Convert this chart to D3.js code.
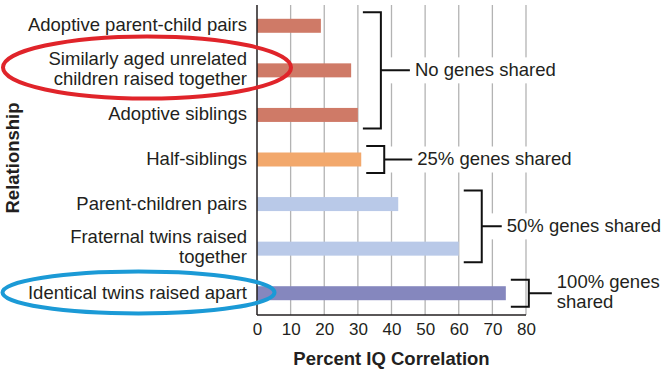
<!DOCTYPE html>
<html>
<head>
  <meta charset="utf-8">
  <title>IQ correlation</title>
  <style type="text/css">
    body {
      margin: 0;
      background-color: #fff;
    }
    svg {
      display: block;
      font-family: "Liberation Sans", Arial, sans-serif;
    }
    text {
      fill: #231f20;
    }
  </style>
  <script src="https://d3js.org/d3.v7.min.js"></script>
</head>
<body>

<script>
// categories, top to bottom (lines split with |)
var relations = [
  "Adoptive parent-child pairs",
  "Similarly aged unrelated|children raised together",
  "Adoptive siblings",
  "Half-siblings",
  "Parent-children pairs",
  "Fraternal twins raised|together",
  "Identical twins raised apart"
];
var correlation = [19, 28, 30, 31, 42, 60, 74];
var xTicks = [0, 10, 20, 30, 40, 50, 60, 70, 80];

// groups of rows for the brackets
var groupNames = ["No genes shared", "25% genes shared", "50% genes shared", "100% genes|shared"];
var groupFirst = [0, 3, 4, 6];
var groupLast = [2, 3, 5, 6];
var groupColors = ["#cf7a67", "#f2a86c", "#b9c9e8", "#8587be"];

// row -> group
var rowGroup = relations.map(function(d, i) {
  return groupFirst.findIndex(function(f, g) { return i >= f && i <= groupLast[g]; });
});

var width = 665, height = 376;
var stems = [29, 28, 20, 23];

var svg = d3.select("body").append("svg")
  .attr("width", width)
  .attr("height", height);

var xscale = d3.scaleLinear()
  .domain([0, 80])
  .range([257, 526]);

var yscale = d3.scaleBand()
  .domain(relations)
  .range([3.5, 315.5])
  .padding(0);

var barH = 14;
var axisTop = 5, axisBottom = 315;

// gridlines
svg.append("g")
  .selectAll("line")
  .data(xTicks.slice(1))
  .enter().append("line")
  .attr("x1", function(d) { return xscale(d); })
  .attr("x2", function(d) { return xscale(d); })
  .attr("y1", axisTop)
  .attr("y2", axisBottom)
  .style("stroke", "#b3b3b3")
  .style("stroke-width", 1.3);

// bars
svg.append("g")
  .selectAll("rect")
  .data(correlation)
  .enter().append("rect")
  .attr("x", xscale(0))
  .attr("y", function(d, i) { return yscale(relations[i]) + yscale.bandwidth() / 2 - barH / 2; })
  .attr("width", function(d) { return xscale(d) - xscale(0); })
  .attr("height", barH)
  .style("fill", function(d, i) { return groupColors[rowGroup[i]]; });

// axes
var xaxis = d3.axisBottom(xscale).tickValues(xTicks).tickSize(0).tickPadding(8);
var gx = svg.append("g")
  .attr("transform", "translate(0," + axisBottom + ")")
  .call(xaxis);
gx.select(".domain").attr("d", "M" + xscale(0) + ",0H" + xscale(80)).style("stroke", "#231f20").style("stroke-width", 1.5);
gx.selectAll(".tick text")
  .attr("y", 20)
  .attr("dy", 0)
  .style("font-size", "17px")
  .style("font-family", "'Liberation Sans', Arial, sans-serif")
  .style("fill", "#231f20");

svg.append("line")
  .attr("x1", xscale(0)).attr("x2", xscale(0))
  .attr("y1", axisTop).attr("y2", axisBottom)
  .style("stroke", "#231f20")
  .style("stroke-width", 1.5);

// category labels
var lineH = 20;
svg.append("g")
  .selectAll("text")
  .data(relations)
  .enter().append("text")
  .attr("text-anchor", "end")
  .style("font-size", "18.5px")
  .each(function(d) {
    var lines = d.split("|");
    var cy = yscale(d) + yscale.bandwidth() / 2;
    var t = d3.select(this);
    lines.forEach(function(l, k) {
      t.append("tspan")
        .attr("x", 247)
        .attr("y", cy + 5.5 - (lines.length - 1) * 11 + k * lineH)
        .text(l);
    });
  });

// brackets
groupNames.forEach(function(name, g) {
  var vals = correlation.slice(groupFirst[g], groupLast[g] + 1);
  var tip = xscale(d3.max(vals)) + 5;
  var vx = tip + 18;
  var y0 = yscale(relations[groupFirst[g]]) + yscale.bandwidth() / 2 - 13.5;
  var y1 = yscale(relations[groupLast[g]]) + yscale.bandwidth() / 2 + 13.5;
  var ym = (y0 + y1) / 2;
  var lines = name.split("|");
  var bg = svg.append("g");

  var t = bg.append("text").style("font-size", "18.5px");
  lines.forEach(function(l, k) {
    t.append("tspan")
      .attr("x", vx + stems[g] + 5)
      .attr("y", ym + 5.5 - (lines.length - 1) * 11 + k * lineH)
      .text(l);
  });
  var bb = t.node().getBBox();
  bg.insert("rect", "text")
    .attr("x", vx + 3)
    .attr("y", ym - 13)
    .attr("width", bb.x + bb.width + 3 - (vx + 3))
    .attr("height", 26)
    .style("fill", "#fff");

  bg.append("path")
    .attr("d", "M" + tip + "," + y0 + "H" + vx + "V" + y1 + "H" + tip + "M" + vx + "," + ym + "h" + stems[g])
    .style("fill", "none")
    .style("stroke", "#111")
    .style("stroke-width", 2);
});

// axis titles
svg.append("text")
  .attr("x", (xscale(0) + xscale(80)) / 2)
  .attr("y", 365)
  .attr("text-anchor", "middle")
  .style("font-size", "18.5px")
  .style("font-weight", "bold")
  .text("Percent IQ Correlation");

svg.append("text")
  .attr("transform", "translate(19,158) rotate(-90)")
  .attr("text-anchor", "middle")
  .style("font-size", "18.5px")
  .style("font-weight", "bold")
  .text("Relationship");

// highlight ellipses
svg.append("ellipse")
  .attr("cx", 147).attr("cy", 67.5)
  .attr("rx", 144).attr("ry", 31)
  .style("fill", "none")
  .style("stroke", "#e0242a")
  .style("stroke-width", 4);

svg.append("ellipse")
  .attr("cx", 138.5).attr("cy", 292.5)
  .attr("rx", 136).attr("ry", 21)
  .style("fill", "none")
  .style("stroke", "#1b9ad6")
  .style("stroke-width", 4);
</script>

</body>
</html>
